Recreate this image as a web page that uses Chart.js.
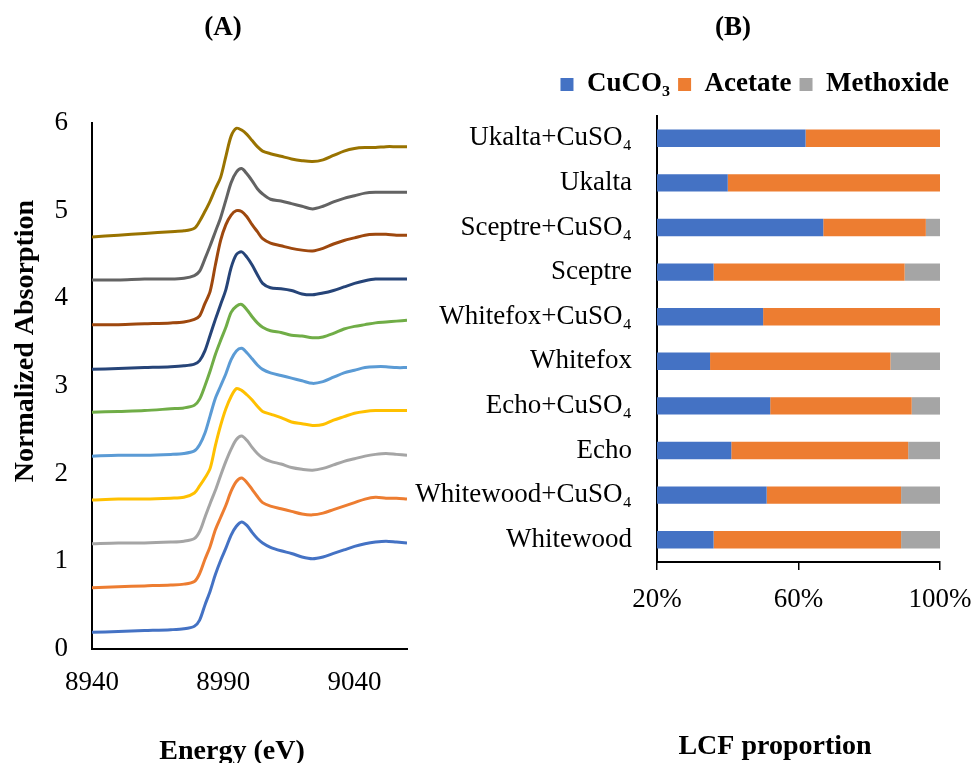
<!DOCTYPE html>
<html>
<head>
<meta charset="utf-8">
<title>XANES and LCF</title>
<script src="https://cdn.jsdelivr.net/npm/chart.js@4.4.1/dist/chart.umd.min.js"></script>
<style>
  html, body { margin: 0; padding: 0; background: #fff; overflow: hidden; }
  #wrap { position: relative; width: 974px; height: 763px; }
  #wrap canvas { position: absolute; left: 0; top: 0; }
</style>
</head>
<body>
<div id="wrap">
  <canvas id="xanes" width="974" height="763"></canvas>
  <canvas id="lcf" width="974" height="763"></canvas>
</div>
<script>
// ---- panel A data: normalized Cu K-edge spectra, offset upward ----
const energy = [8940, 8950, 8960, 8970, 8975, 8979, 8981, 8983, 8985, 8987, 8989, 8991, 8993, 8995, 8997, 8999, 9001,
                9003, 9005, 9008, 9012, 9016, 9020, 9024, 9028, 9032, 9036, 9040, 9044, 9048, 9052, 9056, 9060];
const energyTicks = [8940, 8990, 9040];

const trace1  = [0.19, 0.20, 0.21, 0.22, 0.23, 0.26, 0.33, 0.50, 0.66, 0.85, 1.01, 1.15, 1.30, 1.40, 1.45, 1.41, 1.33,
                 1.26, 1.21, 1.16, 1.12, 1.09, 1.05, 1.03, 1.05, 1.09, 1.13, 1.17, 1.20, 1.22, 1.23, 1.22, 1.21];
const trace2  = [0.70, 0.71, 0.72, 0.73, 0.74, 0.77, 0.86, 1.02, 1.17, 1.36, 1.50, 1.64, 1.80, 1.91, 1.95, 1.90, 1.82,
                 1.74, 1.67, 1.63, 1.60, 1.57, 1.54, 1.53, 1.55, 1.59, 1.63, 1.67, 1.71, 1.73, 1.72, 1.72, 1.71];
const trace3  = [1.20, 1.21, 1.21, 1.22, 1.23, 1.26, 1.34, 1.50, 1.66, 1.81, 1.98, 2.14, 2.28, 2.39, 2.43, 2.38, 2.30,
                 2.23, 2.18, 2.14, 2.11, 2.07, 2.05, 2.04, 2.06, 2.10, 2.14, 2.17, 2.20, 2.22, 2.23, 2.22, 2.21];
const trace4  = [1.70, 1.71, 1.71, 1.72, 1.73, 1.78, 1.86, 1.95, 2.06, 2.32, 2.55, 2.74, 2.88, 2.97, 2.95, 2.90, 2.84,
                 2.77, 2.71, 2.68, 2.64, 2.59, 2.57, 2.55, 2.56, 2.61, 2.65, 2.69, 2.71, 2.72, 2.72, 2.72, 2.72];
const trace5  = [2.20, 2.21, 2.21, 2.22, 2.23, 2.26, 2.33, 2.46, 2.66, 2.86, 3.00, 3.14, 3.30, 3.40, 3.43, 3.38, 3.31,
                 3.24, 3.19, 3.15, 3.12, 3.09, 3.06, 3.03, 3.05, 3.10, 3.15, 3.18, 3.21, 3.22, 3.22, 3.21, 3.21];
const trace6  = [2.70, 2.71, 2.72, 2.74, 2.75, 2.78, 2.85, 3.00, 3.17, 3.36, 3.52, 3.67, 3.84, 3.91, 3.93, 3.87, 3.79,
                 3.72, 3.67, 3.63, 3.61, 3.58, 3.57, 3.55, 3.56, 3.60, 3.65, 3.68, 3.70, 3.72, 3.73, 3.74, 3.75];
const trace7  = [3.19, 3.20, 3.21, 3.22, 3.23, 3.25, 3.29, 3.40, 3.58, 3.76, 3.93, 4.10, 4.35, 4.50, 4.53, 4.47, 4.38,
                 4.27, 4.17, 4.12, 4.11, 4.09, 4.05, 4.04, 4.06, 4.09, 4.13, 4.17, 4.20, 4.22, 4.22, 4.22, 4.22];
const trace8  = [3.70, 3.70, 3.71, 3.72, 3.73, 3.76, 3.80, 3.94, 4.08, 4.38, 4.66, 4.84, 4.95, 5.00, 4.99, 4.93, 4.84,
                 4.76, 4.68, 4.63, 4.60, 4.57, 4.55, 4.54, 4.57, 4.62, 4.66, 4.69, 4.72, 4.73, 4.73, 4.72, 4.72];
const trace9  = [4.21, 4.21, 4.22, 4.22, 4.23, 4.26, 4.31, 4.45, 4.60, 4.76, 4.92, 5.12, 5.32, 5.44, 5.48, 5.42, 5.34,
                 5.25, 5.19, 5.13, 5.11, 5.08, 5.05, 5.02, 5.05, 5.10, 5.14, 5.17, 5.20, 5.21, 5.21, 5.21, 5.21];
const trace10 = [4.70, 4.72, 4.74, 4.76, 4.77, 4.80, 4.88, 4.99, 5.11, 5.25, 5.38, 5.62, 5.85, 5.94, 5.92, 5.87, 5.80,
                 5.73, 5.68, 5.65, 5.62, 5.59, 5.57, 5.56, 5.58, 5.63, 5.68, 5.71, 5.72, 5.72, 5.73, 5.73, 5.73];

// ---- panel B data: LCF proportions (%), top bar first ----
const samples   = ['Ukalta+CuSO₄', 'Ukalta', 'Sceptre+CuSO₄', 'Sceptre', 'Whitefox+CuSO₄', 'Whitefox',
                   'Echo+CuSO₄', 'Echo', 'Whitewood+CuSO₄', 'Whitewood'];
const cuco3     = [62, 40, 67, 36, 50, 35, 52, 41, 51, 36];
const acetate   = [38, 60, 29, 54, 50, 51, 40, 50, 38, 53];
const methoxide = [0, 0, 4, 10, 0, 14, 8, 9, 11, 11];
const lcfTicks  = [20, 60, 100];

const SERIF = "'Liberation Serif', 'Times New Roman', serif";
Chart.defaults.font.family = SERIF;
Chart.defaults.color = '#000';

// free-standing titles drawn at fixed spots (Excel-style placement)
function textPlugin(id, items) {
    return {
        id: id,
        afterDraw(chart) {
            const ctx = chart.ctx;
            items.forEach(t => {
                ctx.save();
                ctx.font = t.font;
                ctx.fillStyle = '#000';
                ctx.textAlign = 'center';
                ctx.textBaseline = 'alphabetic';
                ctx.translate(t.x, t.y);
                if (t.rotate) ctx.rotate(t.rotate);
                ctx.fillText(t.text, 0, 0);
                ctx.restore();
            });
        }
    };
}

// a bit more room under the legend
const legendGap = {
    id: 'legendGap',
    beforeInit(chart) {
        const fit = chart.legend.fit;
        chart.legend.fit = function () {
            fit.call(this);
            this.height += 8;
        };
    }
};

const traces = [trace1, trace2, trace3, trace4, trace5, trace6, trace7, trace8, trace9, trace10];
const traceColors = ['#4472C4', '#ED7D31', '#A5A5A5', '#FFC000', '#5B9BD5',
                     '#70AD47', '#264478', '#9E480E', '#636363', '#997300'];

new Chart(document.getElementById('xanes'), {
    type: 'line',
    data: {
        datasets: traces.map((t, i) => ({
            label: 'Spectrum ' + (i + 1),
            data: energy.map((e, k) => ({ x: e, y: t[k] })),
            borderColor: traceColors[i],
            borderWidth: 3,
            pointRadius: 0,
            tension: 0.3,
            fill: false
        }))
    },
    options: {
        responsive: false,
        animation: false,
        layout: { padding: { top: 123, right: 567, bottom: 0, left: 0 } },
        plugins: { legend: { display: false }, tooltip: { enabled: false } },
        scales: {
            x: {
                type: 'linear', min: 8940, max: 9060,
                afterBuildTicks: s => { s.ticks = energyTicks.map(v => ({ value: v })); },
                afterFit: s => { s.height = 114; },
                grid: { display: false, drawTicks: false },
                border: { color: '#000', width: 2 },
                ticks: { font: { size: 27 }, color: '#000', padding: 18, maxRotation: 0, callback: v => String(v) }
            },
            y: {
                min: 0, max: 6,
                afterFit: s => { s.width = 92; },
                grid: { display: false, drawTicks: false },
                border: { color: '#000', width: 2 },
                ticks: { stepSize: 1, font: { size: 27 }, color: '#000', padding: 24 }
            }
        }
    },
    plugins: [textPlugin('textA', [
        { text: '(A)', x: 223, y: 35, font: 'bold 27px ' + SERIF },
        { text: 'Normalized Absorption', x: 33, y: 341, rotate: -Math.PI / 2, font: 'bold 28px ' + SERIF },
        { text: 'Energy (eV)', x: 232, y: 759, font: 'bold 28px ' + SERIF }
    ])]
});

new Chart(document.getElementById('lcf'), {
    type: 'bar',
    data: {
        labels: samples,
        datasets: [
            { label: 'CuCO₃', data: cuco3, backgroundColor: '#4472C4', clip: 0 },
            { label: 'Acetate', data: acetate, backgroundColor: '#ED7D31', clip: 0 },
            { label: 'Methoxide', data: methoxide, backgroundColor: '#A5A5A5', clip: 0 }
        ]
    },
    options: {
        indexAxis: 'y',
        responsive: false,
        animation: false,
        datasets: { bar: { barPercentage: 0.39, categoryPercentage: 1, borderWidth: 0 } },
        layout: { padding: { top: 63, right: 17, bottom: 0, left: 400 } },
        plugins: {
            legend: {
                position: 'top',
                align: 'end',
                labels: { font: { size: 27, weight: 'bold' }, color: '#000', boxWidth: 13, boxHeight: 13, padding: 8 }
            },
            tooltip: { enabled: false }
        },
        scales: {
            x: {
                type: 'linear', stacked: true, min: 20, max: 100,
                afterBuildTicks: s => { s.ticks = lcfTicks.map(v => ({ value: v })); },
                afterFit: s => { s.height = 201; s.paddingRight = 34; },
                grid: { display: true, drawOnChartArea: false, drawTicks: true, tickLength: 8, color: '#000', lineWidth: 1.5 },
                border: { color: '#000', width: 2 },
                ticks: { font: { size: 27 }, color: '#000', padding: 14, maxRotation: 0, callback: v => v + '%' }
            },
            y: {
                stacked: true,
                afterFit: s => { s.width = 257; },
                grid: { display: false, drawTicks: false },
                border: { color: '#000', width: 2 },
                ticks: { font: { size: 27 }, color: '#000', padding: 25 }
            }
        }
    },
    plugins: [legendGap, textPlugin('textB', [
        { text: '(B)', x: 733, y: 35, font: 'bold 27px ' + SERIF },
        { text: 'LCF proportion', x: 775, y: 754, font: 'bold 28px ' + SERIF }
    ])]
});
</script>
</body>
</html>
